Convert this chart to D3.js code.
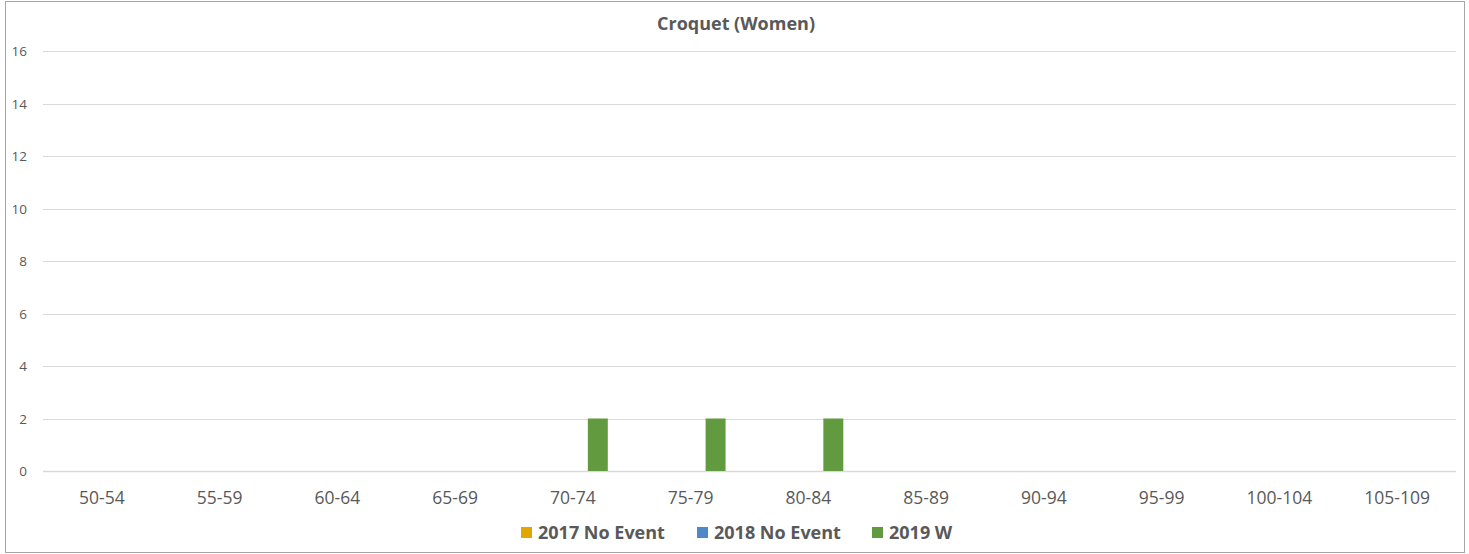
<!DOCTYPE html>
<html><head><meta charset="utf-8">
<script src="https://cdn.jsdelivr.net/npm/d3@7"></script>
<style>body{margin:0;background:#fff;} svg{display:block;} svg text{font-family:"Open Sans","Noto Sans",sans-serif;}</style>
</head><body><svg id="c" width="1469" height="554"></svg>
<script>
const categories = ["50-54","55-59","60-64","65-69","70-74","75-79","80-84","85-89","90-94","95-99","100-104","105-109"];
const seriesNames = ["2017 No Event","2018 No Event","2019 W"];
const values2017 = [0,0,0,0,0,0,0,0,0,0,0,0];
const values2018 = [0,0,0,0,0,0,0,0,0,0,0,0];
const values2019 = [0,0,0,0,2,2,2,0,0,0,0,0];
const yTicks = [0,2,4,6,8,10,12,14,16];
const colors = ["#E3A600","#4F88C6","#629B3F"];
const title = "Croquet (Women)";

const allValues = [values2017, values2018, values2019];
const svg = d3.select("#c");
const W = 1469, H = 554;
const m = {left:43, right:13, top:51, bottom:83};
const pw = W - m.left - m.right, ph = H - m.top - m.bottom;

svg.append("rect").attr("x",5.5).attr("y",1.5).attr("width",W-10).attr("height",H-3)
  .attr("fill","#fff").attr("stroke","#a6a6a6").attr("stroke-width",1);

const g = svg.append("g").attr("transform",`translate(${m.left},${m.top})`);
const x0 = d3.scaleBand().domain(categories).range([0,pw]).padding(0);
const x1 = d3.scaleBand().domain(seriesNames).range([0,x0.bandwidth()]).paddingInner(0.2).paddingOuter(0.96);
const y = d3.scaleLinear().domain([0,16]).range([ph,0]);

// gridlines
g.append("g").selectAll("line").data(yTicks).join("line")
  .attr("x1",0).attr("x2",pw).attr("y1",d=>Math.round(y(d))+0.5).attr("y2",d=>Math.round(y(d))+0.5)
  .attr("stroke","#d9d9d9").attr("stroke-width",d=>d===0?1.5:1);

// y labels
const yAxis = d3.axisLeft(y).tickValues(yTicks).tickSize(0).tickPadding(0);
const ya = g.append("g").attr("transform","translate(-16,0)").call(yAxis).attr("font-family",null);
ya.select(".domain").remove();
ya.selectAll("text").attr("fill","#595959").style("font-size","13.5px").attr("dy","0.35em");

// x labels
const xAxis = d3.axisBottom(x0).tickSize(0).tickPadding(0);
const xa = g.append("g").attr("transform",`translate(0,${ph+33})`).call(xAxis).attr("font-family",null);
xa.select(".domain").remove();
xa.selectAll("text").attr("fill","#595959").style("font-size","17.5px").attr("dy","0");

// bars
const data = [];
categories.forEach((c,i)=>seriesNames.forEach((s,j)=>data.push({c,s,v:allValues[j][i],j})));
g.append("g").selectAll("rect").data(data.filter(d=>d.v>0)).join("rect")
  .attr("x",d=>x0(d.c)+x1(d.s)).attr("width",x1.bandwidth())
  .attr("y",d=>y(d.v)).attr("height",d=>y(0)-y(d.v)).attr("fill",d=>colors[d.j]);

// title
svg.append("text").attr("x",736).attr("y",30).attr("text-anchor","middle")
  .attr("fill","#595959").style("font-size","18px").style("font-weight","bold").text(title);

// legend
const legX = [521, 697, 872];
const leg = svg.append("g");
seriesNames.forEach((s,j)=>{
  leg.append("rect").attr("x",legX[j]).attr("y",527).attr("width",11).attr("height",11).attr("fill",colors[j]);
  leg.append("text").attr("x",legX[j]+17).attr("y",539).attr("fill","#595959")
    .style("font-size","18px").style("font-weight","bold").text(s);
});
</script></body></html>
